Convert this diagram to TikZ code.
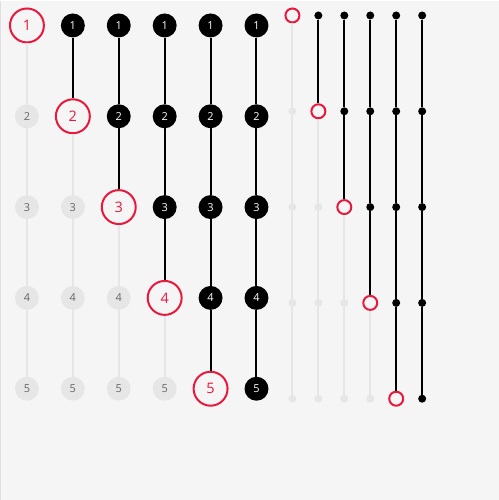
\documentclass[tikz,border=0pt]{standalone}
\usepackage{fontspec}
\setmainfont{Open Sans}
\definecolor{pagebg}{HTML}{F5F5F5}
\definecolor{stepred}{HTML}{E8193C}
\definecolor{pending}{HTML}{E6E6E6}
\definecolor{pendtext}{HTML}{666666}
\definecolor{edgegray}{HTML}{E0E0E0}

\begin{document}
\begin{tikzpicture}[x=1pt, y=-1pt,
						done/.style={circle, fill=black, text=white, minimum size=24pt, inner sep=0pt, font=\fontsize{11}{11}\selectfont},
						current/.style={circle, draw=stepred, line width=2pt, fill=pagebg, text=stepred, minimum size=34pt, inner sep=0pt, font=\fontsize{14.5}{14.5}\selectfont},
						todo/.style={circle, fill=pending, text=pendtext, minimum size=24pt, inner sep=0pt, font=\fontsize{11}{11}\selectfont},
						dotdone/.style={circle, fill=black, minimum size=8pt, inner sep=0pt},
						dotcurrent/.style={circle, draw=stepred, line width=2pt, fill=pagebg, minimum size=14pt, inner sep=0pt},
						dottodo/.style={circle, fill=pending, minimum size=8pt, inner sep=0pt},
						link_done/.style={line width=2pt, black},
						link_todo/.style={line width=2pt, pending}
						]
						
						% Fondo y borde izquierdo
						\fill[pagebg] (0,0) rectangle (500,500);
						\draw[edgegray, line width=1pt] (0.5,0) -- (0.5,500);
						
						% Pasos grandes con número
						\foreach \i in {1,...,6} {
							\foreach \j in {1,...,5} {
								\ifnum\j<\i \def\st{done}\else\ifnum\j=\i \def\st{current}\else\def\st{todo}\fi\fi
								\node[\st] (big-\i-\j) at ({27+46*(\i-1)}, {25+91*(\j-1)}) {\j};
							}
						}
						
						% Pasos pequeños (solo puntos)
						\foreach \i in {1,...,6} {
							\foreach \j in {1,...,5} {
								\ifnum\j<\i \def\st{dotdone}\else\ifnum\j=\i \def\st{dotcurrent}\else\def\st{dottodo}\fi\fi
								\node[\st] (dot-\i-\j) at ({293+26*(\i-1)}, {15+96*(\j-1)}) {};
							}
						}
						
						% Conexiones entre pasos
						\foreach \i in {1,...,6} {
							\foreach \j/\k in {1/2, 2/3, 3/4, 4/5} {
								\ifnum\k>\i \def\ln{link_todo}\else\def\ln{link_done}\fi
								\draw[\ln] (big-\i-\j) -- (big-\i-\k);
								\draw[\ln] (dot-\i-\j) -- (dot-\i-\k);
							}
						}
						
					\end{tikzpicture}
\end{document}
